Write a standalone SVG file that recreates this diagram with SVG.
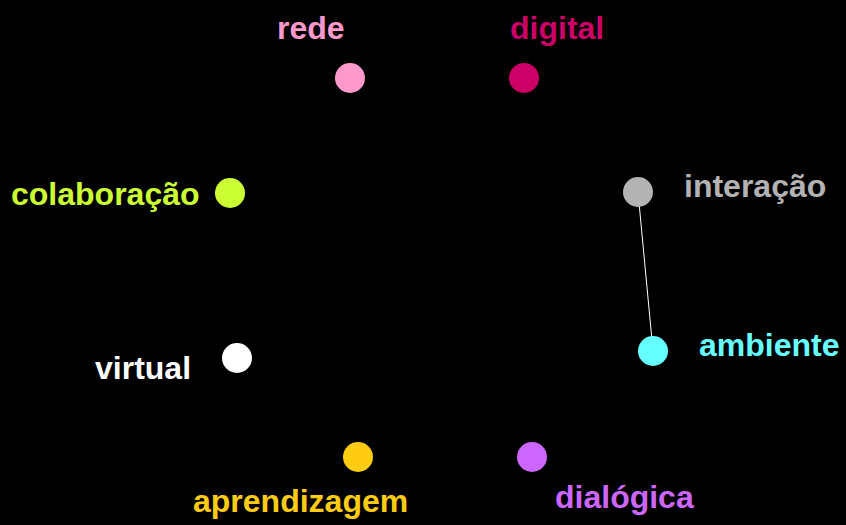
<svg xmlns="http://www.w3.org/2000/svg" width="846" height="525" viewBox="0 0 846 525">
  <style>
    .lbl { font-family: "Liberation Sans", Arial, sans-serif; font-weight: bold; font-size: 32px; }
    .edge { stroke: #ffffff; stroke-width: 1; fill: none; }
  </style>
  <rect width="846" height="525" fill="#000000"/>
  <g id="connectors">
    <line class="edge" x1="638" y1="192" x2="653" y2="351"/>
  </g>
  <g id="rede">
    <circle cx="350" cy="78" r="15" fill="#ff99cc"/>
    <text class="lbl" x="277" y="39" fill="#ff99cc">rede</text>
  </g>
  <g id="digital">
    <circle cx="524" cy="78" r="15" fill="#cc0066"/>
    <text class="lbl" x="510" y="39" fill="#cc0066">digital</text>
  </g>
  <g id="colaboracao">
    <circle cx="230" cy="193" r="15" fill="#ccff33"/>
    <text class="lbl" x="11" y="205" fill="#ccff33">colaboração</text>
  </g>
  <g id="interacao">
    <circle cx="638" cy="192" r="15" fill="#b3b3b3"/>
    <text class="lbl" x="684" y="197" fill="#b3b3b3">interação</text>
  </g>
  <g id="ambiente">
    <circle cx="653" cy="351" r="15" fill="#66ffff"/>
    <text class="lbl" x="699" y="356" fill="#66ffff">ambiente</text>
  </g>
  <g id="virtual">
    <circle cx="237" cy="358" r="15" fill="#ffffff"/>
    <text class="lbl" x="95" y="379" fill="#ffffff">virtual</text>
  </g>
  <g id="aprendizagem">
    <circle cx="358" cy="457" r="15" fill="#ffcc11"/>
    <text class="lbl" x="193" y="512" fill="#ffcc11">aprendizagem</text>
  </g>
  <g id="dialogica">
    <circle cx="532" cy="457" r="15" fill="#cc66ff"/>
    <text class="lbl" x="555" y="508" fill="#cc66ff">dialógica</text>
  </g>
</svg>
